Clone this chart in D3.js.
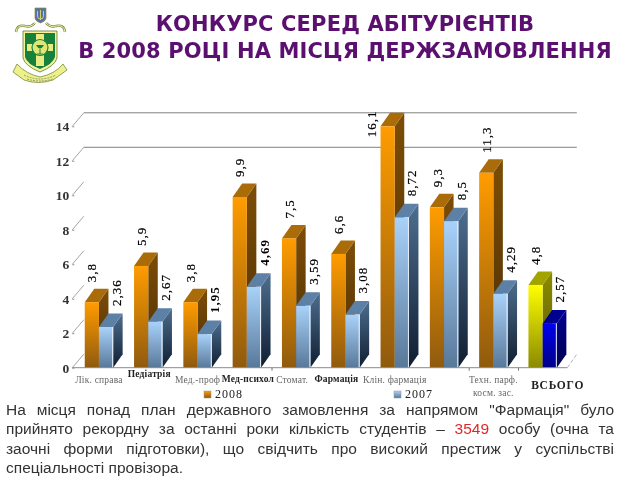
<!DOCTYPE html>
<html><head><meta charset="utf-8">
<script src="https://cdn.jsdelivr.net/npm/d3@7"></script>
<style>html,body{margin:0;padding:0;background:#fff}svg{display:block;filter:blur(0.35px)}</style></head>
<body><svg id="c" width="640" height="480"></svg>
<script>
const categories=["Лік. справа","Педіатрія","Мед.-проф","Мед-психол","Стомат.","Фармація","Клін. фармація","","Техн. парф.|косм. зас.","ВСЬОГО"];
const values2008=[3.8,5.9,3.8,9.9,7.5,6.6,16.1,9.3,11.3,4.8];
const values2007=[2.36,2.67,1.95,4.69,3.59,3.08,8.72,8.5,4.29,2.57];
const labels2008=["3,8","5,9","3,8","9,9","7,5","6,6","16,1","9,3","11,3","4,8"];
const labels2007=["2,36","2,67","1,95","4,69","3,59","3,08","8,72","8,5","4,29","2,57"];
const yTicks=[0,2,4,6,8,10,12,14];
const legendNames=["2008","2007"];
const titleLines=["КОНКУРС СЕРЕД АБІТУРІЄНТІВ","В 2008 РОЦІ НА МІСЦЯ ДЕРЖЗАМОВЛЕННЯ"];
const bodyLines=['На місця понад план державного замовлення за напрямом "Фармація" було',
 'прийнято рекордну за останні роки кількість студентів – |3549| особу (очна та',
 'заочні форми підготовки), що свідчить про високий престиж у суспільстві',
 'спеціальності провізора.'];

const svg=d3.select("#c");
const serif='"Liberation Serif",serif';
const DX=9.5,DY=13.5;
const x=d3.scaleBand().domain(d3.range(10)).range([74.3,567.3]);
const y=d3.scaleLinear().domain([0,14]).range([367.7,126.3]);
const barW=14.2, groupW=barW*2;
const defs=svg.append("defs");
function grad(id,c0,c1){const g=defs.append("linearGradient").attr("id",id).attr("x1",0).attr("y1",0).attr("x2",0).attr("y2",1);
 g.append("stop").attr("offset",0).attr("stop-color",c0);g.append("stop").attr("offset",1).attr("stop-color",c1);return `url(#${id})`;}
const P={
 orange:{front:grad("of","#ff9c00","#8f5a0e"),side:grad("os","#7d4d06","#4b2e05"),top:"#a96c08"},
 blue:{front:grad("bf","#a9d2fa","#587899"),side:grad("bs","#4e6e90","#0f1e30"),top:"#5d80a6"},
 yellow:{front:grad("yf","#ffff00","#8a8a00"),side:grad("ys","#8c8c00","#5a5a00"),top:"#a3a300"},
 navy:{front:grad("nf","#0000f0","#000088"),side:grad("ns","#000090","#000050"),top:"#000090"}
};
// title
svg.selectAll(".title").data(titleLines).join("text").attr("class","title")
 .attr("x",345).attr("y",(d,i)=>31+i*27).attr("text-anchor","middle")
 .attr("font-family",'"DejaVu Sans",sans-serif').attr("font-weight",700).attr("font-size",21)
 .attr("letter-spacing",0.15).attr("fill","#5b1070").text(d=>d);

// logo
const L=svg.append("g").attr("class","logo");
L.append("path").attr("d","M17 64 Q14 70 13 72 L24 80 Q38 85 53 80 L67 70 L63 64 Q55 74 40 77 Q26 74 17 64Z").attr("fill","#eef08a").attr("stroke","#7a8a3a").attr("stroke-width",.8);
L.append("path").attr("d","M23 31 L57 31 L57 58 Q55 66 40 72 Q25 66 23 58Z").attr("fill","#f4f59a").attr("stroke","#5c7a2a").attr("stroke-width",.8);
L.append("path").attr("d","M25 33 L55 33 L55 57 Q53 64 40 69 Q27 64 25 57Z").attr("fill","#17813c");
L.append("path").attr("d","M36 34 L44 34 L44 44 L53 44 L53 51 L44 51 L44 66 L36 66 L36 51 L27 51 L27 44 L36 44Z").attr("fill","#e9ec80");
L.append("circle").attr("cx",40).attr("cy",47.5).attr("r",8).attr("fill","#dfe675").attr("stroke","#17813c").attr("stroke-width",1.2);
L.append("path").attr("d","M36 45 Q40 52 44 45Z").attr("fill","#17813c");
L.append("path").attr("d","M40 49 V54 M37 54 H43").attr("stroke","#17813c").attr("stroke-width",1);
L.append("path").attr("d","M35 8 H46 V18 Q46 21 40.5 23 Q35 21 35 18Z").attr("fill","#5573a8").attr("stroke","#8a8a3a").attr("stroke-width",.7);
L.append("path").attr("d","M40.5 10 V20 M37.5 11 V16 Q37.5 19 40.5 19 Q43.5 19 43.5 16 V11").attr("stroke","#e3d860").attr("stroke-width",.9).attr("fill","none");
const scroll="M16 32 Q17 24 25 26 Q30 28 35 23 M65 32 Q64 24 56 26 Q51 28 46 23";
L.append("path").attr("d",scroll).attr("fill","none").attr("stroke","#7c8a40").attr("stroke-width",2.4);
L.append("path").attr("d",scroll).attr("fill","none").attr("stroke","#f0f2a8").attr("stroke-width",1);
L.append("path").attr("d","M24 75 Q40 83 56 75 M27 79 Q40 83 53 79").attr("fill","none").attr("stroke","#7a8a6a").attr("stroke-width",.8).attr("stroke-dasharray","2 1");

// walls and axis
const g=svg.append("g").attr("class","plot");
const xL=x.range()[0],xR=x.range()[1];
const gridRows=g.selectAll(".rowg").data(yTicks).join("g").attr("class","rowg");
gridRows.append("path").attr("fill","none").attr("stroke","#9a9a9a").attr("stroke-width",.9)
 .attr("d",d=>`M${xL-2},${y(d)} L${xL+DX},${y(d)-DY}`);
gridRows.filter(d=>d>=12).append("line").attr("stroke","#808080").attr("stroke-width",1)
 .attr("x1",xL+DX).attr("x2",xR+DX).attr("y1",d=>y(d)-DY).attr("y2",d=>y(d)-DY);
g.append("path").attr("fill","none").attr("stroke","#b5b5b5").attr("stroke-dasharray","4 2")
 .attr("d",`M${xR},${y(0)} L${xR+DX},${y(0)-DY}`);

const yAxis=d3.axisLeft(y).tickValues(yTicks).tickSize(2).tickPadding(3).tickFormat(d3.format("d"));
const ya=svg.append("g").attr("transform",`translate(${xL},0)`).call(yAxis);
ya.select(".domain").remove();
ya.selectAll("line").attr("stroke","#888");
ya.selectAll("text").attr("font-family",serif).attr("font-size",13.5).attr("font-weight",700).attr("fill","#333");

const xAxis=d3.axisBottom(d3.scaleLinear().domain([0,10]).range([xL,xR])).tickValues([4,8,9]).tickSize(3).tickFormat("");
const xa=svg.append("g").attr("transform",`translate(0,${y(0)})`).call(xAxis);
xa.selectAll("line").attr("stroke","#777");
xa.select(".domain").attr("stroke","#8a8a8a").attr("d",`M${xL-2},0H${xR}`);

// bars
function bar(sel,x0,v,pal){
 const v1=Math.min(v,14),t=y(v1),b=y(0),w=barW;
 sel.append("path").attr("fill",pal.side).attr("d",`M${x0+w},${t}L${x0+w+DX},${t-DY}L${x0+w+DX},${b-DY}L${x0+w},${b}Z`);
 sel.append("path").attr("fill",pal.top).attr("d",`M${x0},${t}L${x0+DX},${t-DY}L${x0+w+DX},${t-DY}L${x0+w},${t}Z`);
 sel.append("rect").attr("x",x0).attr("y",t).attr("width",w).attr("height",b-t).attr("fill",pal.front);
}
const groups=g.selectAll(".grp").data(d3.range(10)).join("g").attr("class","grp");
groups.each(function(i){
 const s=d3.select(this),x0=x(i)+(x.bandwidth()-groupW)/2;
 const last=i===9;
 bar(s.append("g"),x0,values2008[i],last?P.yellow:P.orange);
 bar(s.append("g"),x0+barW,values2007[i],last?P.navy:P.blue);
 s.append("line").attr("x1",x0+groupW-.5).attr("x2",x0+groupW-.5).attr("y1",y(values2007[i])).attr("y2",y(0)).attr("stroke","#e8f0fa").attr("stroke-width",1);
});

// value labels
function vlabel(text,cx,yy,bold){
 svg.append("text").attr("class","val").attr("transform",`translate(${cx},${yy}) rotate(-90)`)
  .attr("dy","0.35em").attr("font-family",serif).attr("font-size",13).attr("letter-spacing",1)
  .attr("font-weight",bold?700:400).attr("fill","#000").attr("stroke","#000").attr("stroke-width",bold?0:0.2).text(text);
}
values2008.forEach((v,i)=>{
 const x0=x(i)+(x.bandwidth()-groupW)/2;
 if(v>14) vlabel(labels2008[i],x0-9,y(14)+11,false);
 else vlabel(labels2008[i],x0+barW/2,y(v)-20,false);
});
values2007.forEach((v,i)=>{
 const x0=x(i)+(x.bandwidth()-groupW)/2;
 vlabel(labels2007[i],x0+barW*1.5+10,y(v)-21,i===2||i===3);
});

// category labels
const boldCat=new Set([1,3,5]);
const catNudge=[[0,0],[1,-6],[0,0],[1,-1],[-4,0],[-9,-1],[0,0],[0,0],[0,0],[15,6]];
categories.forEach((c,i)=>{
 if(!c) return;
 const parts=c.split("|");
 parts.forEach((p,k)=>svg.append("text").attr("class","cat")
  .attr("x",x(i)+x.bandwidth()/2+catNudge[i][0]).attr("y",383+catNudge[i][1]+k*12.5)
  .attr("text-anchor","middle").attr("font-family",serif)
  .attr("font-size",i===9?11.5:9.5).attr("font-weight",(boldCat.has(i)||i===9)?700:400)
  .attr("letter-spacing",i===9?0.8:0.2)
  .attr("fill",(boldCat.has(i)||i===9)?"#222":"#666").text(p));
});

// legend
const lg=[{n:legendNames[0],x:204,pal:P.orange},{n:legendNames[1],x:394,pal:P.blue}];
lg.forEach(d=>{
 svg.append("rect").attr("x",d.x).attr("y",391).attr("width",7).attr("height",7).attr("fill",d.pal.front).attr("stroke","#999").attr("stroke-width",.5);
 svg.append("text").attr("x",d.x+11).attr("y",398.3).attr("font-family",serif).attr("font-size",12).attr("letter-spacing",1).attr("fill","#222").text(d.n);
});

// body text
const bodyX=6,bodyW=608;
bodyLines.forEach((ln,i)=>{
 const t=svg.append("text").attr("class","body").attr("x",bodyX).attr("y",415+i*19.3)
  .attr("font-family",'"Liberation Sans",sans-serif').attr("font-size",15.5).attr("fill","#333");
 const segs=ln.split("|");
 segs.forEach((s,k)=>t.append("tspan").attr("fill",k===1?"#e02828":"#333").text(s));
 if(i<3){
  const n=ln.replace(/\|/g,"").split(" ").length-1;
  const len=t.node().getComputedTextLength();
  t.attr("word-spacing",(bodyW-len)/n);
 }
});
</script></body></html>
